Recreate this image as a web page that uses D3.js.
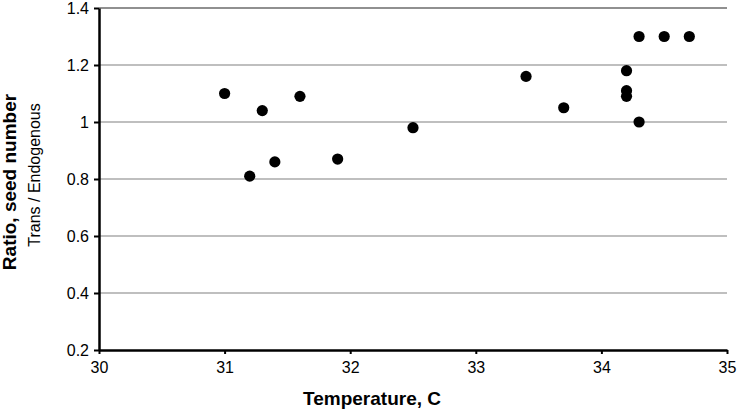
<!DOCTYPE html>
<html>
<head>
<meta charset="utf-8">
<script src="https://cdn.jsdelivr.net/npm/d3@7"></script>
<style>
  body { margin: 0; background: #fff; }
  text { font-family: "Liberation Sans", Arial, sans-serif; fill: #000; }
</style>
</head>
<body>
<div id="chart"></div>
<script>
// data
const temperature = [31.0, 31.2, 31.3, 31.4, 31.6, 31.9, 32.5, 33.4, 33.7, 34.2, 34.2, 34.2, 34.3, 34.3, 34.5, 34.7];
const ratio       = [1.10, 0.81, 1.04, 0.86, 1.09, 0.87, 0.98, 1.16, 1.05, 1.18, 1.11, 1.09, 1.00, 1.30, 1.30, 1.30];
const xTicks = [30, 31, 32, 33, 34, 35];
const yTicks = [0.2, 0.4, 0.6, 0.8, 1.0, 1.2, 1.4];

const W = 738, H = 412;
const margin = {top: 8, right: 11, bottom: 62, left: 99};

const svg = d3.select("#chart").append("svg")
    .attr("width", W).attr("height", H);

const x = d3.scaleLinear().domain([30, 35]).range([margin.left, W - margin.right]);
const y = d3.scaleLinear().domain([0.2, 1.4]).range([H - margin.bottom, margin.top]);

// gridlines
svg.append("g").selectAll("line")
    .data(yTicks.filter(d => d > 0.2))
    .enter().append("line")
    .attr("x1", x(30)).attr("x2", x(35))
    .attr("y1", d => y(d)).attr("y2", d => y(d))
    .attr("stroke", d => d === 1.4 ? "#222" : "#808080")
    .attr("stroke-width", 1.2);

// axes
const xAxis = svg.append("g")
    .attr("transform", `translate(0,${y(0.2)})`)
    .call(d3.axisBottom(x).tickValues(xTicks).tickFormat(d3.format("d")).tickSize(4).tickSizeOuter(0));
const yAxis = svg.append("g")
    .attr("transform", `translate(${x(30)},0)`)
    .call(d3.axisLeft(y).tickValues(yTicks).tickFormat(d => d === 1 ? "1" : d3.format(".1f")(d)).tickSize(5).tickSizeOuter(0));

[xAxis, yAxis].forEach(g => {
    g.select(".domain").attr("stroke", "#000").attr("stroke-width", 2.5);
    g.selectAll(".tick line").attr("stroke", "#000").attr("stroke-width", 2);
    g.selectAll(".tick text")
        .attr("font-family", "Liberation Sans, Arial, sans-serif")
        .attr("font-size", 16).attr("fill", "#000");
});
xAxis.selectAll(".tick text").attr("dy", null).attr("y", 23);
yAxis.selectAll(".tick text").attr("x", -10);

// points
svg.append("g").selectAll("circle")
    .data(temperature.map((t, i) => ({t: t, r: ratio[i]})))
    .enter().append("circle")
    .attr("cx", d => x(d.t))
    .attr("cy", d => y(d.r))
    .attr("r", 5.6)
    .attr("fill", "#000");

// axis titles
svg.append("text")
    .attr("x", 372).attr("y", 405)
    .attr("text-anchor", "middle")
    .attr("font-size", 19).attr("font-weight", "bold")
    .text("Temperature, C");

svg.append("text")
    .attr("transform", "translate(16,182) rotate(-90)")
    .attr("text-anchor", "middle")
    .attr("font-size", 19).attr("font-weight", "bold")
    .text("Ratio, seed number");

svg.append("text")
    .attr("transform", "translate(40,175) rotate(-90)")
    .attr("text-anchor", "middle")
    .attr("font-size", 16)
    .text("Trans / Endogenous");
</script>
</body>
</html>
